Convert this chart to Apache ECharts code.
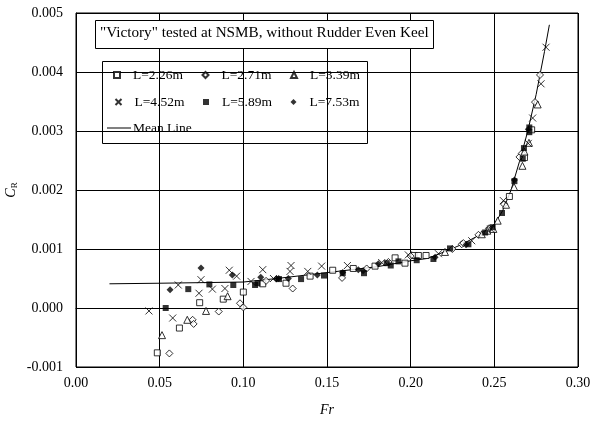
<!DOCTYPE html>
<html><head><meta charset="utf-8">
<script src="https://cdn.jsdelivr.net/npm/echarts@6/dist/echarts.min.js"></script>
<style>html,body{margin:0;padding:0;background:#fff}#c{width:594px;height:427px}</style>
</head><body><div id="c"></div>
<script>
const xTicks = [0, 0.05, 0.10, 0.15, 0.20, 0.25, 0.30];
const yTicks = [-0.001, 0, 0.001, 0.002, 0.003, 0.004, 0.005];
const seriesNames = ['L=2.26m', 'L=2.71m', 'L=3.39m', 'L=4.52m', 'L=5.89m', 'L=7.53m'];

const L226 = [[0.0486,-0.00076],[0.0618,-0.00034],[0.0739,0.00009],[0.0880,0.00015],[0.1000,0.00027],[0.1116,0.00041],[0.1255,0.00042],[0.1399,0.00054],[0.1534,0.00064],[0.1657,0.00067],[0.1787,0.00071],[0.1907,0.00085],[0.1966,0.00076],[0.2020,0.00089],[0.2046,0.00089],[0.2092,0.00089],[0.2590,0.00189],[0.2680,0.00255],[0.2723,0.00302]];
const L271 = [[0.0558,-0.00077],[0.0697,-0.00020],[0.0703,-0.00027],[0.0853,-0.00006],[0.0980,0.00008],[0.1000,0.00001],[0.1136,0.00046],[0.1295,0.00033],[0.1590,0.00051],[0.1737,0.00067],[0.1867,0.00078],[0.2000,0.00088],[0.2249,0.00100],[0.2305,0.00108],[0.2315,0.00110],[0.2405,0.00124],[0.2468,0.00135],[0.2558,0.00176],[0.2650,0.00256],[0.2664,0.00262],[0.2743,0.00349],[0.2773,0.00395]];
const L339 = [[0.0514,-0.00046],[0.0665,-0.00020],[0.0777,-0.00005],[0.0906,0.00020],[0.2205,0.00095],[0.2425,0.00125],[0.2458,0.00131],[0.2494,0.00134],[0.2520,0.00148],[0.2570,0.00175],[0.2618,0.00205],[0.2668,0.00241],[0.2680,0.00265],[0.2707,0.00280],[0.2759,0.00345]];
const L452 = [[0.0436,-0.00005],[0.0578,-0.00017],[0.0611,0.00039],[0.0735,0.00025],[0.0747,0.00048],[0.0815,0.00032],[0.0890,0.00033],[0.0916,0.00064],[0.0960,0.00054],[0.1046,0.00045],[0.1116,0.00065],[0.1180,0.00050],[0.1279,0.00062],[0.1285,0.00072],[0.1385,0.00062],[0.1468,0.00071],[0.1622,0.00072],[0.1827,0.00077],[0.1986,0.00090],[0.2166,0.00092],[0.2365,0.00114],[0.2478,0.00134],[0.2554,0.00182],[0.2703,0.00279],[0.2729,0.00322],[0.2779,0.00380],[0.2809,0.00442]];
const L589 = [[0.0536,0.00000],[0.0671,0.00032],[0.0797,0.00040],[0.0940,0.00039],[0.1070,0.00039],[0.1085,0.00042],[0.1213,0.00049],[0.1345,0.00049],[0.1482,0.00055],[0.1594,0.00059],[0.1721,0.00059],[0.1857,0.00076],[0.1881,0.00072],[0.1927,0.00079],[0.2036,0.00081],[0.2136,0.00083],[0.2235,0.00101],[0.2345,0.00108],[0.2445,0.00128],[0.2490,0.00137],[0.2546,0.00161],[0.2620,0.00215],[0.2670,0.00253],[0.2677,0.00271],[0.2709,0.00306],[0.2709,0.00298]];
const L753 = [[0.0562,0.00031],[0.0747,0.00068],[0.0934,0.00056],[0.1104,0.00052],[0.1196,0.00049],[0.1211,0.00050],[0.1269,0.00050],[0.1442,0.00056],[0.1594,0.00060],[0.1687,0.00065],[0.1716,0.00063],[0.1807,0.00075],[0.2146,0.00086],[0.2331,0.00107],[0.2620,0.00217],[0.2703,0.00303]];
const meanLine = [[0.02,0.00041],[0.05,0.00042],[0.10,0.00044],[0.12,0.00050],[0.15,0.00060],[0.18,0.00070],[0.20,0.00080],[0.21,0.00084],[0.22,0.00095],[0.23,0.00107],[0.24,0.00122],[0.25,0.00142],[0.255,0.00165],[0.26,0.00200],[0.265,0.00248],[0.27,0.00300],[0.275,0.00362],[0.28,0.00435],[0.2829,0.00480]];

const FONT = 'Liberation Serif';
const crossPath = 'path://M0,0L10,10M10,0L0,10';
const openStyle = {color:'#fff', borderColor:'#000', borderWidth:1};
const fillStyle = {color:'#000', borderColor:'#000', borderWidth:0};
const mk = (name, data, symbol, size, style) => ({
  name, type:'scatter', data, symbol, symbolSize:size, itemStyle:style, z:3, silent:true
});
const series = [
  mk(seriesNames[0], L226, 'rect', 6, openStyle),
  mk(seriesNames[1], L271, 'diamond', 7, openStyle),
  mk(seriesNames[2], L339, 'triangle', 7, openStyle),
  mk(seriesNames[3], L452, crossPath, 7, {color:'none', borderColor:'#000', borderWidth:1}),
  mk(seriesNames[4], L589, 'rect', 6, fillStyle),
  mk(seriesNames[5], L753, 'diamond', 7, fillStyle),
  {name:'Mean Line', type:'line', data:meanLine, symbol:'none', smooth:false,
   lineStyle:{color:'#000', width:1}, itemStyle:{color:'#000'}, z:2, silent:true}
];
const legTxt = {fontFamily:FONT, fontSize:13.5, color:'#000', width:50, lineHeight:16, padding:[0,0,0,8]};
const legBase = {orient:'horizontal', padding:0, itemWidth:6, itemHeight:6, itemGap:18.5,
  selectedMode:false, textStyle:legTxt};
const option = {
  animation:false,
  backgroundColor:'#fff',
  grid:{left:76, right:16, top:13, bottom:60, outerBoundsMode:'none', containLabel:false,
    show:true, borderColor:'#000', borderWidth:1, backgroundColor:'transparent'},
  xAxis:{type:'value', min:0, max:0.3, interval:0.05,
    name:'Fr', nameLocation:'middle', nameGap:36, nameMoveOverlap:false,
    nameTextStyle:{fontFamily:FONT, fontSize:14, fontStyle:'italic', color:'#000'},
    axisLine:{lineStyle:{color:'#000'}}, axisTick:{show:false},
    axisLabel:{fontFamily:FONT, fontSize:14, color:'#000', margin:9, formatter:v=>v.toFixed(2)},
    splitLine:{show:true, lineStyle:{color:'#000', width:1}}},
  yAxis:{type:'value', min:-0.001, max:0.005, interval:0.001,
    name:'{c|C}{r|R}', nameLocation:'middle', nameGap:57, nameRotate:90, nameMoveOverlap:false,
    nameTextStyle:{rich:{c:{fontFamily:FONT, fontSize:14, fontStyle:'italic', color:'#000', lineHeight:16},
      r:{fontFamily:FONT, fontSize:9, color:'#000', verticalAlign:'bottom', lineHeight:16, padding:[5,0,0,0]}}},
    axisLine:{lineStyle:{color:'#000'}}, axisTick:{show:false},
    axisLabel:{fontFamily:FONT, fontSize:14, color:'#000', margin:13, formatter:v=>v.toFixed(3)},
    splitLine:{show:true, lineStyle:{color:'#000', width:1}}},
  legend:[
    Object.assign({}, legBase, {left:113, top:67, data:seriesNames.slice(0,3)}),
    Object.assign({}, legBase, {left:113, top:94, data:seriesNames.slice(3,6)}),
    Object.assign({}, legBase, {left:107, top:120, itemWidth:24, itemHeight:1, symbolKeepAspect:false,
      textStyle:Object.assign({}, legTxt, {padding:[0,0,0,-3], width:70}),
      data:[{name:'Mean Line', icon:'rect'}]})
  ],
  graphic:[
    {type:'rect', left:95, top:20, z:10, shape:{width:338, height:28}, style:{fill:'#fff', stroke:'#000', lineWidth:1}},
    {type:'text', left:100, top:26, z:11, style:{text:'"Victory" tested at NSMB, without Rudder Even Keel',
      font:'15.2px "Liberation Serif"', fill:'#000'}},
    {type:'rect', left:102, top:61, z:0, shape:{width:265, height:82}, style:{fill:'#fff', stroke:'#000', lineWidth:1}}
  ],
  series
};
const chart = echarts.init(document.getElementById('c'), null, {renderer:'canvas'});
chart.setOption(option);
</script></body></html>
